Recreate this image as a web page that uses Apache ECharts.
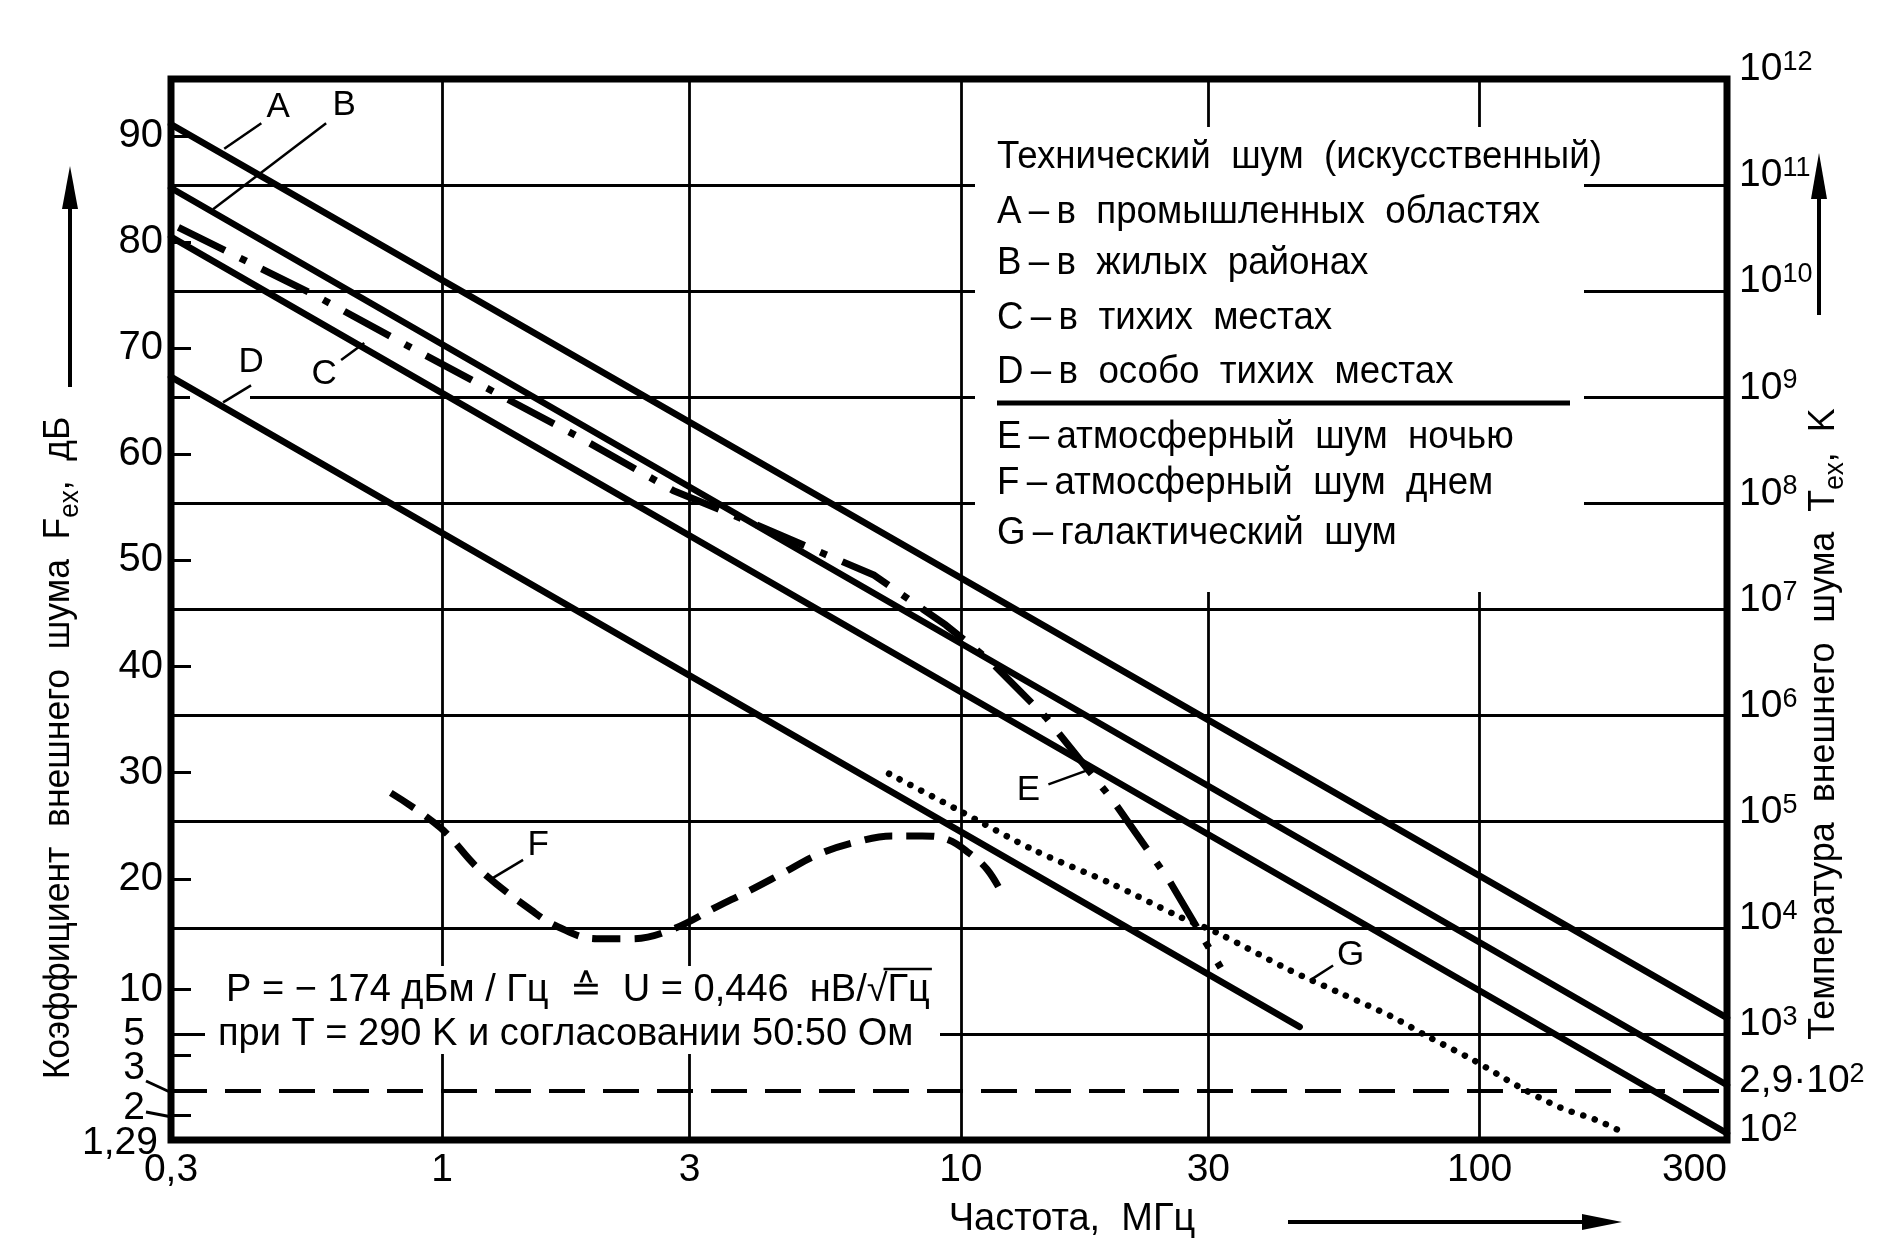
<!DOCTYPE html>
<html><head><meta charset="utf-8">
<script src="https://cdn.jsdelivr.net/npm/echarts@6/dist/echarts.min.js"></script>
<style>html,body{margin:0;padding:0;background:#fff}#c{width:1890px;height:1253px}</style>
</head><body><div id="c"></div>
<script>
// ---------------- data ----------------
const T0 = 290;                                   // reference temperature, K
const freqTicks = [0.3, 1, 3, 10, 30, 100, 300];  // MHz
const freqTickLabels = ['0,3', '1', '3', '10', '30', '100', '300'];
const tempExponents = [2, 3, 4, 5, 6, 7, 8, 9, 10, 11, 12]; // 10^n K
const dbTicks = [90, 80, 70, 60, 50, 40, 30, 20, 10, 5, 2];   // left-axis ticks, dB
const dbLabels = [90, 80, 70, 60, 50, 40, 30, 20, 10];
const refTemp = 290;                               // dashed line 2,9·10^2 K

// man-made noise (straight lines), dB
const freqA = [0.3, 300], dbA = [91.1, 7.7];
const freqB = [0.3, 300], dbB = [85.1, 3.3];
const freqC = [0.3, 300], dbC = [80.5, 1.46];
const freqD = [0.3, 45],  dbD = [67.3, 7.0];
// E – atmospheric noise at night
const freqE = [0.31, 0.573, 0.853, 1.256, 1.87, 2.786, 3.97, 6.81, 9.36, 11.4, 14.6, 19.7, 25.2, 31.7];
const dbE   = [81.4, 74.9, 70.3, 65.9, 61.4, 56.6, 53.5, 48.6, 43.9, 40.5, 35.2, 27.3, 19.9, 11.9];
// F – atmospheric noise by day
const freqF = [0.796, 0.993, 1.18, 1.487, 1.67, 1.986, 2.317, 2.756, 3.405, 3.90, 4.55, 5.30, 6.31, 7.36, 8.42, 9.45, 10.4, 11.24, 12.0];
const dbF   = [28.1, 24.8, 20.9, 17.1, 15.6, 14.5, 14.5, 15.3, 17.5, 18.9, 20.6, 22.3, 23.5, 24.05, 24.05, 23.7, 22.4, 20.9, 18.7];
// G – galactic noise
const freqG = [7.27, 9.87, 13.86, 19.48, 26.45, 31.33, 43.0, 53.95, 67.7, 79.4, 97.3, 119.4, 143, 167.5, 188];
const dbG   = [29.9, 26.5, 22.7, 19.6, 16.5, 15.0, 11.7, 9.7, 7.8, 6.3, 4.7, 3.2, 2.3, 1.86, 1.5];

// curve letters and their leader lines
const curveLetters = ['A', 'B', 'C', 'D', 'E', 'F', 'G'];
const letterFreq = [0.483, 0.647, 0.592, 0.428, 13.5, 1.531, 56.4];
const letterDb   = [92.7, 92.9, 67.5, 68.7, 28.3, 23.2, 13.0];
const leaderFreq = [[0.380, 0.448], [0.3616, 0.5973], [0.6385, 0.7075], [0.378, 0.428], [14.75, 17.46], [1.251, 1.432], [47.1, 52.2]];
const leaderDb   = [[88.8, 91.2], [83.1, 91.2], [68.9, 70.5], [64.9, 66.5], [28.9, 30.2], [20.1, 21.8], [10.8, 12.1]];

const TS = '\u2009–\u2009';
const legendLines = [
  'Технический  шум  (искусственный)',
  'A' + TS + 'в  промышленных  областях',
  'B' + TS + 'в  жилых  районах',
  'C' + TS + 'в  тихих  местах',
  'D' + TS + 'в  особо  тихих  местах',
  'E' + TS + 'атмосферный  шум  ночью',
  'F' + TS + 'атмосферный  шум  днем',
  'G' + TS + 'галактический  шум'
];
const noteLine1a = 'P = − 174 дБм / Гц  ≙  U = 0,446  нВ/√';
const noteLine1b = 'Гц';
const noteLine2 = 'при T = 290 K и согласовании 50:50 Ом';

// ---------------- helpers ----------------
const lx = f => Math.log10(f);
const lyT = t => Math.log10(t);
const lyDb = db => Math.log10(T0 * (Math.pow(10, db / 10) - 1));
const dbOf = v => 10 * Math.log10(1 + Math.pow(10, v) / T0);
const pts = (fs, ds) => fs.map((f, i) => [lx(f), lyDb(ds[i])]);

const FONT = '"Liberation Sans", Arial, sans-serif';
const BLACK = '#000';

const solid = (name, fs, ds, extra) => Object.assign({
  name, type: 'line', data: pts(fs, ds), symbol: 'none', z: 3, silent: true,
  lineStyle: { color: BLACK, width: 6.5, cap: 'round' }
}, extra || {});

const series = [
  solid('A', freqA, dbA),
  solid('B', freqB, dbB),
  solid('C', freqC, dbC),
  solid('D', freqD, dbD),
  solid('E', freqE, dbE, { lineStyle: { color: BLACK, width: 7, type: [52, 17, 7, 17], cap: 'butt' } }),
  solid('F', freqF, dbF, { smooth: 0.4, lineStyle: { color: BLACK, width: 7, type: [28, 14], cap: 'butt' } }),
  solid('G', freqG, dbG, { smooth: 0.3, lineStyle: { color: BLACK, width: 6.5, type: [0.1, 12], cap: 'round' } }),
  { name: 'ref', type: 'line', symbol: 'none', silent: true, z: 2,
    data: [[lx(freqTicks[0]), lyT(refTemp)], [lx(freqTicks[freqTicks.length - 1]), lyT(refTemp)]],
    lineStyle: { color: BLACK, width: 4, type: [36, 18] } }
];
curveLetters.forEach((L, i) => {
  series.push({ name: 'lead' + L, type: 'line', symbol: 'none', silent: true, z: 3,
    data: pts(leaderFreq[i], leaderDb[i]), lineStyle: { color: BLACK, width: 2.5 } });
});

// ---------------- layout graphics ----------------
const G = [];
G.push({ type: 'rect', z: 1, shape: { x: 975, y: 127, width: 609, height: 465 }, style: { fill: '#fff' }, silent: true });
G.push({ type: 'rect', z: 1, shape: { x: 205, y: 966, width: 735, height: 88 }, style: { fill: '#fff' }, silent: true });
G.push({ type: 'rect', z: 1, shape: { x: 190, y: 385, width: 60, height: 20 }, style: { fill: '#fff' }, silent: true });

const legendY = [157, 212, 263, 318, 372, 437, 483, 533];
legendLines.forEach((t, i) => {
  G.push({ type: 'text', z: 10, silent: true, x: 997, y: legendY[i], scaleX: 0.94,
    style: { text: t, x: 0, y: 0, font: '39px ' + FONT, fill: BLACK,
      textAlign: 'left', textVerticalAlign: 'middle', align: 'left', verticalAlign: 'middle' } });
});
G.push({ type: 'line', z: 10, silent: true, shape: { x1: 997, y1: 403, x2: 1570, y2: 403 }, style: { stroke: BLACK, lineWidth: 5 } });

// note (white-backed text block)
const NOTE_FONT = '38px ' + FONT;
const mctx = document.createElement('canvas').getContext('2d');
mctx.font = NOTE_FONT;
const w1a = mctx.measureText(noteLine1a).width;
const w1b = mctx.measureText(noteLine1b).width;
G.push({ type: 'text', z: 10, silent: true,
  style: { text: noteLine1a + noteLine1b, x: 226, y: 991, font: NOTE_FONT, fill: BLACK,
    textAlign: 'left', textVerticalAlign: 'middle', align: 'left', verticalAlign: 'middle' } });
G.push({ type: 'line', z: 10, silent: true, shape: { x1: 226 + w1a - 4, y1: 969, x2: 226 + w1a + w1b + 2, y2: 969 }, style: { stroke: BLACK, lineWidth: 2.5 } });
G.push({ type: 'text', z: 10, silent: true,
  style: { text: noteLine2, x: 218, y: 1035, font: NOTE_FONT, fill: BLACK,
    textAlign: 'left', textVerticalAlign: 'middle', align: 'left', verticalAlign: 'middle' } });

// axis titles
G.push({ type: 'text', z: 10, silent: true, x: 1072, y: 1220,
  style: { text: 'Частота,  МГц', font: '38px ' + FONT, fill: BLACK,
    textAlign: 'center', textVerticalAlign: 'middle', align: 'center', verticalAlign: 'middle' } });
G.push({ type: 'line', z: 10, silent: true, shape: { x1: 1288, y1: 1222, x2: 1590, y2: 1222 }, style: { stroke: BLACK, lineWidth: 4 } });
G.push({ type: 'polygon', z: 10, silent: true, shape: { points: [[1622, 1222], [1582, 1214], [1582, 1230]] }, style: { fill: BLACK } });

const titleRich = {
  t: { fontFamily: FONT, fontSize: 37, lineHeight: 44, verticalAlign: 'top' },
  s: { fontFamily: FONT, fontSize: 27, lineHeight: 28, verticalAlign: 'bottom', padding: [14, 0, 0, 0] }
};
G.push({ type: 'text', z: 10, silent: true, x: 62, y: 748, rotation: Math.PI / 2, scaleX: 0.96,
  style: { text: '{t|Коэффициент  внешнего  шума  F}{s|ex}{t|,  дБ}', fill: BLACK,
    textAlign: 'center', textVerticalAlign: 'middle', align: 'center', verticalAlign: 'middle', rich: titleRich } });
G.push({ type: 'line', z: 10, silent: true, shape: { x1: 70, y1: 387, x2: 70, y2: 200 }, style: { stroke: BLACK, lineWidth: 4 } });
G.push({ type: 'polygon', z: 10, silent: true, shape: { points: [[70, 166], [62, 209], [78, 209]] }, style: { fill: BLACK } });

G.push({ type: 'text', z: 10, silent: true, x: 1827, y: 724, rotation: Math.PI / 2, scaleX: 0.97,
  style: { text: '{t|Температура  внешнего  шума  T}{s|ex}{t|,  K}', fill: BLACK,
    textAlign: 'center', textVerticalAlign: 'middle', align: 'center', verticalAlign: 'middle', rich: titleRich } });
G.push({ type: 'line', z: 10, silent: true, shape: { x1: 1819, y1: 315, x2: 1819, y2: 190 }, style: { stroke: BLACK, lineWidth: 4 } });
G.push({ type: 'polygon', z: 10, silent: true, shape: { points: [[1819, 153], [1811, 199], [1827, 199]] }, style: { fill: BLACK } });

// crowded low labels of the left axis
const lowLabels = [['5', 145, 1034], ['3', 145, 1068], ['2', 145, 1108], ['1,29', 158, 1143]];
lowLabels.forEach(([t, x, y]) => {
  G.push({ type: 'text', z: 10, silent: true,
    style: { text: t, x, y, font: '39px ' + FONT, fill: BLACK,
      textAlign: 'right', textVerticalAlign: 'middle', align: 'right', verticalAlign: 'middle' } });
});
G.push({ type: 'line', z: 10, silent: true, shape: { x1: 146, y1: 1081, x2: 172, y2: 1093 }, style: { stroke: BLACK, lineWidth: 3 } });
G.push({ type: 'line', z: 10, silent: true, shape: { x1: 146, y1: 1112, x2: 172, y2: 1117 }, style: { stroke: BLACK, lineWidth: 3 } });

// ---------------- chart ----------------
const labelOf = v => {
  let best = 0;
  freqTicks.forEach((f, i) => { if (Math.abs(lx(f) - v) < Math.abs(lx(freqTicks[best]) - v)) best = i; });
  return freqTickLabels[best];
};

const option = {
  backgroundColor: '#fff',
  animation: false,
  textStyle: { fontFamily: FONT },
  grid: { left: 171, right: 163, top: 79, bottom: 113, show: true, borderColor: BLACK, borderWidth: 7, backgroundColor: 'transparent', z: 5 },
  xAxis: {
    type: 'value', min: lx(freqTicks[0]), max: lx(freqTicks[freqTicks.length - 1]),
    axisLine: { show: false, onZero: false },
    axisTick: { show: false, customValues: freqTicks.slice(1, -1).map(lx) },
    splitLine: { show: true, lineStyle: { color: BLACK, width: 2.8 } },
    axisLabel: { customValues: freqTicks.map(lx), formatter: labelOf, color: BLACK, fontFamily: FONT, fontSize: 39, margin: 11,
      alignMaxLabel: 'right' }
  },
  yAxis: [
    { type: 'value', position: 'left', min: 2, max: 12,
      axisLine: { show: false, onZero: false },
      axisTick: { show: true, inside: true, length: 20, lineStyle: { color: BLACK, width: 3 }, customValues: dbTicks.map(lyDb) },
      splitLine: { show: false },
      axisLabel: { customValues: dbLabels.map(lyDb), formatter: v => String(Math.round(dbOf(v))), color: BLACK,
        fontFamily: FONT, fontSize: 40, margin: 8 } },
    { type: 'value', position: 'right', min: 2, max: 12, interval: 1,
      axisLine: { show: false, onZero: false }, axisTick: { show: false },
      splitLine: { show: true, lineStyle: { color: BLACK, width: 2.8 } },
      axisLabel: { customValues: tempExponents.concat([lyT(refTemp)]),
        formatter: v => {
          if (Math.abs(v - lyT(refTemp)) < 1e-6) return '{b|2,9·10}{s|2}';
          return '{b|10}{s|' + Math.round(v) + '}';
        },
        margin: 12, color: BLACK, padding: [0, 0, 20, 0],
        rich: { b: { fontFamily: FONT, fontSize: 39, lineHeight: 40, verticalAlign: 'bottom', color: BLACK },
                s: { fontFamily: FONT, fontSize: 27, lineHeight: 26, verticalAlign: 'top', padding: [0, 0, 24, 0], color: BLACK } } } }
  ],
  series,
  graphic: { elements: G }
};
const chart = echarts.init(document.getElementById('c'));
chart.setOption(option);

// curve letters, placed through the chart's own coordinate system
const letterEls = curveLetters.map((L, i) => {
  const p = chart.convertToPixel({ gridIndex: 0 }, [lx(letterFreq[i]), lyDb(letterDb[i])]);
  return { type: 'text', z: 10, silent: true,
    style: { text: L, x: p[0], y: p[1], font: '35px ' + FONT, fill: BLACK, backgroundColor: '#fff', padding: [0, 2],
      textAlign: 'center', textVerticalAlign: 'middle', align: 'center', verticalAlign: 'middle' } };
});
chart.setOption({ graphic: { elements: G.concat(letterEls) } });
</script></body></html>
